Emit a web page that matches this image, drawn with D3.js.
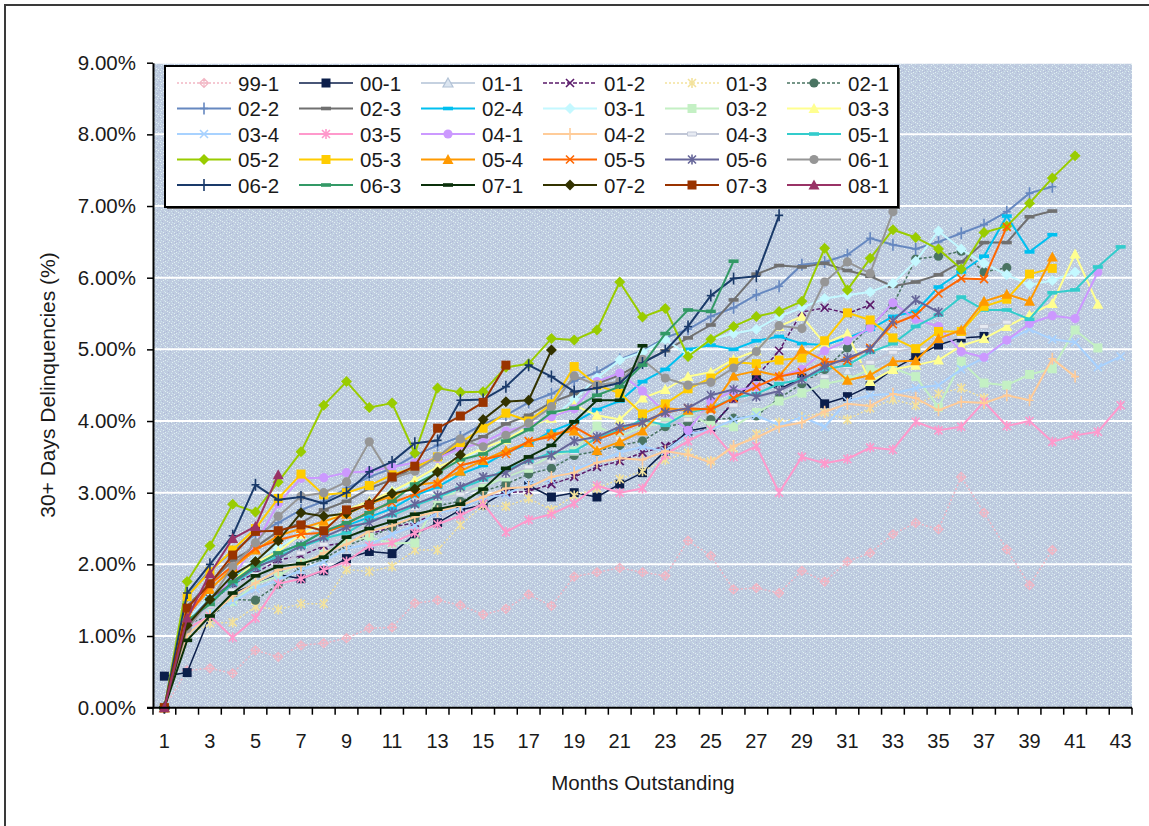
<!DOCTYPE html>
<html>
<head>
<meta charset="utf-8">
<script src="https://cdn.jsdelivr.net/npm/d3@7"></script>
<style>
  html, body { margin: 0; padding: 0; background: #ffffff; }
  svg { display: block; }
  text { font-family: "Liberation Sans", Arial, sans-serif; fill: #1a1a1a; }
</style>
</head>
<body>
<svg id="chart" width="1149" height="826"></svg>
<script>
// ---- categories and tick labels ----
const months = [1,2,3,4,5,6,7,8,9,10,11,12,13,14,15,16,17,18,19,20,21,22,23,24,25,26,27,28,29,30,31,32,33,34,35,36,37,38,39,40,41,42,43];
const xTickLabels = [1,3,5,7,9,11,13,15,17,19,21,23,25,27,29,31,33,35,37,39,41,43];
const yTicks = [0,1,2,3,4,5,6,7,8,9];

// ---- vintages (legend order) ----
const seriesNames = ["99-1","00-1","01-1","01-2","01-3","02-1",
                     "02-2","02-3","02-4","03-1","03-2","03-3",
                     "03-4","03-5","04-1","04-2","04-3","05-1",
                     "05-2","05-3","05-4","05-5","05-6","06-1",
                     "06-2","06-3","07-1","07-2","07-3","08-1"];

// ---- 30+ day delinquency rate (%) by month outstanding ----
const s99_1 = [0,0.52,0.55,0.48,0.80,0.71,0.87,0.90,0.97,1.11,1.12,1.46,1.50,1.43,1.30,1.38,1.58,1.42,1.83,1.89,1.95,1.89,1.84,2.33,2.12,1.65,1.67,1.60,1.91,1.76,2.04,2.16,2.42,2.58,2.49,3.22,2.72,2.21,1.71,2.20];
const s00_1 = [0.44,0.49,1.28,1.60,1.72,1.86,1.80,1.91,2.08,2.18,2.15,2.42,2.58,2.76,2.83,3.02,3.10,2.94,3.00,2.94,3.12,3.28,3.58,3.86,3.92,4.26,4.62,4.44,4.60,4.24,4.34,4.49,4.72,4.90,5.06,5.16,5.18];
const s01_1 = [0,1.08,1.36,1.62,1.78,1.98,2.08,2.22,2.36,2.48,2.62,2.70,2.88,2.94,3.08,3.18,3.32,3.38,3.52,3.64,3.70,3.84,3.92,4.06,4.10,4.24,4.30,4.44,4.52,4.58,4.70,4.74,4.86];
const s01_2 = [0,1.14,1.46,1.72,1.88,2.06,2.12,2.26,2.30,2.42,2.52,2.58,2.72,2.78,2.92,3.00,3.02,3.12,3.22,3.36,3.44,3.56,3.65,3.82,3.90,4.28,4.62,4.98,5.52,5.58,5.50,5.62];
const s01_3 = [0,0.98,1.18,1.19,1.41,1.37,1.45,1.45,1.93,1.90,1.97,2.20,2.20,2.55,2.82,2.81,2.92,2.76,2.96,3.06,3.19,3.30,3.46,3.56,3.44,3.62,3.82,3.98,4.06,4.12,4.02,4.18,4.30,4.22,4.38,4.46,4.32];
const s02_1 = [0,1.18,1.27,1.51,1.50,1.72,1.96,2.08,2.26,2.38,2.52,2.64,2.82,2.88,3.02,3.12,3.26,3.34,3.52,3.58,3.66,3.72,3.92,3.98,4.02,4.04,4.07,4.32,4.52,4.72,5.02,5.32,5.62,6.26,6.30,6.37,6.08,6.14];
const s02_2 = [0,1.56,1.92,2.18,2.42,2.58,2.76,2.88,3.06,3.22,3.34,3.52,3.66,3.78,3.96,4.08,4.26,4.38,4.56,4.68,4.86,4.98,5.16,5.28,5.46,5.58,5.76,5.88,6.18,6.22,6.32,6.55,6.46,6.40,6.50,6.62,6.74,6.92,7.18,7.27];
const s02_3 = [0,1.42,1.74,2.06,2.24,2.46,2.58,2.76,2.88,3.06,3.18,3.36,3.48,3.66,3.78,3.96,4.08,4.26,4.38,4.52,4.64,4.82,4.98,5.16,5.34,5.69,6.05,6.17,6.15,6.20,6.10,6.02,5.88,5.94,6.04,6.22,6.49,6.49,6.85,6.93];
const s02_4 = [0,1.22,1.54,1.82,1.98,2.16,2.28,2.46,2.54,2.66,2.78,2.96,3.08,3.26,3.38,3.56,3.68,3.86,3.98,4.16,4.28,4.55,4.72,5.00,5.06,5.00,5.12,5.18,5.08,5.06,5.16,5.28,5.46,5.53,5.87,6.08,6.30,6.86,6.36,6.60];
const s03_1 = [0,1.22,1.56,1.84,2.06,2.24,2.42,2.54,2.72,2.84,3.02,3.14,3.32,3.44,3.62,3.74,3.92,4.04,4.30,4.60,4.85,4.96,5.14,4.92,5.14,5.22,5.28,5.46,5.58,5.71,5.76,5.80,5.92,6.23,6.65,6.40,6.20,6.04,5.90,5.96,6.08];
const s03_2 = [0,1.04,1.32,1.48,1.72,1.84,2.02,2.14,2.32,2.38,2.29,2.30,2.92,3.02,3.08,3.22,3.34,3.52,3.58,3.93,3.78,3.92,3.98,4.12,3.94,3.92,4.12,4.28,4.39,4.52,4.58,4.72,4.74,4.62,4.19,4.83,4.53,4.50,4.65,4.73,5.27,5.02];
const s03_3 = [0,1.14,1.52,1.78,2.02,2.18,2.42,2.58,2.76,2.88,3.02,3.18,3.36,3.48,3.62,3.74,3.92,4.04,4.22,4.08,4.02,4.32,4.44,4.62,4.68,4.86,4.98,5.32,5.46,5.08,5.22,4.55,4.72,4.78,4.85,5.05,5.15,5.32,5.48,5.64,6.33,5.63];
const s03_4 = [0,1.04,1.32,1.48,1.66,1.78,1.92,2.04,2.22,2.28,2.42,2.54,2.72,2.78,2.92,2.98,3.12,3.18,3.32,3.44,3.56,3.64,3.58,3.82,3.88,4.02,4.08,3.94,4.06,3.92,4.28,4.36,4.38,4.46,4.50,4.72,4.88,5.12,5.28,5.14,5.10,4.75,4.90];
const s03_5 = [0,1.10,1.28,0.98,1.25,1.73,1.80,1.92,2.04,2.26,2.30,2.44,2.56,2.68,2.85,2.45,2.62,2.70,2.85,3.10,3.00,3.06,3.53,3.72,3.88,3.50,3.65,3.00,3.50,3.41,3.47,3.63,3.60,3.99,3.87,3.92,4.27,3.93,4.00,3.71,3.80,3.85,4.22];
const s04_1 = [0,1.12,1.44,1.82,2.28,2.85,3.20,3.21,3.28,3.30,3.36,3.42,3.48,3.62,3.70,3.86,3.94,4.06,4.17,4.55,4.67,4.42,4.12,3.87,4.28,4.42,4.48,4.62,4.72,4.98,5.12,5.30,5.65,5.42,5.32,4.97,4.89,5.13,5.36,5.47,5.43,6.08];
const s04_2 = [0,1.02,1.28,1.56,1.74,1.92,1.98,2.16,2.28,2.46,2.54,2.66,2.74,2.82,2.94,3.06,3.08,3.22,3.28,3.42,3.48,3.46,3.58,3.53,3.42,3.65,3.77,3.92,3.98,4.13,4.24,4.21,4.38,4.32,4.15,4.27,4.25,4.36,4.29,4.87,4.62];
const s04_3 = [0,1.12,1.42,1.64,1.86,1.98,2.16,2.28,2.46,2.54,2.66,2.78,2.92,2.98,3.16,3.24,3.36,3.44,3.56,3.62,3.76,3.84,3.96,4.02,4.16,4.22,4.36,4.42,4.56,4.62,4.76,4.82,4.96,5.02,5.12,5.18,5.32,5.38];
const s05_1 = [0,1.16,1.48,1.72,1.94,2.12,2.24,2.36,2.44,2.62,2.68,2.82,2.94,3.06,3.18,3.32,3.44,3.56,3.58,3.76,3.88,4.02,3.94,4.12,4.18,4.32,4.38,4.52,4.58,4.72,4.78,4.96,5.08,5.32,5.48,5.73,5.55,5.55,5.42,5.79,5.83,6.15,6.43];
const s05_2 = [0,1.76,2.26,2.84,2.73,3.15,3.57,4.22,4.55,4.19,4.25,3.55,4.46,4.40,4.41,4.75,4.80,5.15,5.13,5.27,5.94,5.45,5.57,4.90,5.14,5.32,5.46,5.53,5.67,6.41,5.83,6.27,6.67,6.56,6.40,6.12,6.63,6.72,7.04,7.39,7.70];
const s05_3 = [0,1.55,1.90,2.20,2.50,2.92,3.26,2.97,3.00,3.10,3.25,3.35,3.50,3.70,3.90,4.11,4.00,4.24,4.76,4.50,4.39,4.10,4.24,4.45,4.60,4.82,4.80,4.85,4.88,5.12,5.51,5.41,5.16,5.01,5.25,5.25,5.60,5.70,6.05,6.13];
const s05_4 = [0,1.30,1.65,1.95,2.20,2.40,2.50,2.60,2.70,2.85,2.95,3.10,3.15,3.30,3.45,3.59,3.70,3.82,3.86,3.59,3.71,3.86,4.18,4.15,4.18,4.63,4.70,4.63,5.00,4.84,4.57,4.64,4.83,4.84,5.15,5.27,5.67,5.77,5.67,6.29];
const s05_5 = [0,1.26,1.72,1.98,2.22,2.34,2.42,2.44,2.56,2.74,2.86,2.98,3.12,3.38,3.46,3.54,3.72,3.78,3.92,3.74,3.86,3.98,4.12,4.18,4.16,4.32,4.48,4.62,4.68,4.82,4.84,5.02,5.35,5.48,5.78,5.99,5.98,6.71];
const s05_6 = [0,1.18,1.52,1.74,1.96,2.08,2.26,2.38,2.52,2.58,2.72,2.84,2.96,3.08,3.22,3.28,3.46,3.52,3.72,3.78,3.92,3.98,4.12,4.18,4.36,4.44,4.34,4.42,4.58,4.76,4.88,5.00,5.40,5.69,5.52];
const s06_1 = [0,1.10,1.50,1.97,2.30,2.67,2.95,3.00,3.15,3.71,3.20,3.30,3.50,3.75,3.64,3.80,3.97,4.20,4.63,4.50,4.55,4.86,4.60,4.50,4.54,4.74,4.97,5.33,5.29,5.94,6.22,6.06,6.92];
const s06_2 = [0,1.60,2.00,2.40,3.11,2.90,2.94,2.85,3.00,3.29,3.43,3.69,3.73,4.29,4.30,4.48,4.78,4.62,4.41,4.46,4.53,4.81,4.98,5.32,5.75,5.99,6.02,6.87];
const s06_3 = [0,1.22,1.44,1.76,1.98,2.16,2.28,2.46,2.58,2.72,2.88,3.12,3.28,3.46,3.54,3.72,3.88,4.12,4.18,4.36,4.48,4.78,5.22,5.55,5.53,6.23];
const s07_1 = [0,0.94,1.28,1.60,1.84,1.97,2.01,2.10,2.38,2.50,2.60,2.70,2.77,2.84,3.05,3.34,3.50,3.66,3.99,4.29,4.29,5.05];
const s07_2 = [0,1.15,1.51,1.85,2.04,2.33,2.72,2.67,2.71,2.85,2.99,3.05,3.29,3.53,4.02,4.27,4.29,4.99];
const s07_3 = [0,1.39,1.73,2.13,2.46,2.47,2.55,2.47,2.76,2.83,3.22,3.37,3.90,4.07,4.26,4.78];
const s08_1 = [0,1.25,1.87,2.36,2.53,3.25];

const seriesValues = [s99_1,s00_1,s01_1,s01_2,s01_3,s02_1,
                      s02_2,s02_3,s02_4,s03_1,s03_2,s03_3,
                      s03_4,s03_5,s04_1,s04_2,s04_3,s05_1,
                      s05_2,s05_3,s05_4,s05_5,s05_6,s06_1,
                      s06_2,s06_3,s07_1,s07_2,s07_3,s08_1];

// ---- line colour, marker and dash for each vintage ----
const seriesStyles = [
  {c:"#f2b6c4", m:"diamondx", dash:"2,2", w:1.5},
  {c:"#0b1e4a", m:"square",   dash:null,  w:1.5},
  {c:"#b2c2d6", m:"triOpen",  dash:null,  w:1.5},
  {c:"#5a1a6a", m:"x",        dash:"4,2", w:1.5},
  {c:"#f3e29c", m:"asterisk", dash:"2,2", w:1.5},
  {c:"#4a7462", m:"circle",   dash:"3,2", w:1.5},
  {c:"#6688c0", m:"plus",     dash:null,  w:2},
  {c:"#707070", m:"dash",     dash:null,  w:2},
  {c:"#00c0f0", m:"dash",     dash:null,  w:2},
  {c:"#c4f8ff", m:"diamond",  dash:null,  w:2},
  {c:"#c4f0c4", m:"square",   dash:null,  w:2},
  {c:"#ffff90", m:"triangle", dash:null,  w:2},
  {c:"#a8d2ff", m:"x",        dash:null,  w:2},
  {c:"#ff99cc", m:"asterisk", dash:null,  w:2},
  {c:"#cc99ff", m:"circle",   dash:null,  w:2},
  {c:"#ffcc99", m:"plus",     dash:null,  w:2},
  {c:"#c0c6d6", m:"dashOpen", dash:null,  w:2},
  {c:"#33cccc", m:"dash",     dash:null,  w:2},
  {c:"#99cc00", m:"diamond",  dash:null,  w:2},
  {c:"#ffcc00", m:"square",   dash:null,  w:2},
  {c:"#ff9900", m:"triangle", dash:null,  w:2},
  {c:"#ff6600", m:"x",        dash:null,  w:2},
  {c:"#666699", m:"asterisk", dash:null,  w:2},
  {c:"#969696", m:"circle",   dash:null,  w:2},
  {c:"#1a3a6a", m:"plus",     dash:null,  w:2},
  {c:"#339966", m:"dash",     dash:null,  w:2},
  {c:"#0a300a", m:"dash",     dash:null,  w:2},
  {c:"#333300", m:"diamond",  dash:null,  w:2},
  {c:"#993300", m:"square",   dash:null,  w:2},
  {c:"#993366", m:"triangle", dash:null,  w:2}
];

// ---- layout ----
const plot = {left: 153, right: 1132, top: 62.7, bottom: 707.7};

const svg = d3.select("#chart");

// outer chart frame
svg.append("rect")
  .attr("x", 5).attr("y", 5).attr("width", 1170).attr("height", 850)
  .attr("fill", "none").attr("stroke", "#3a3a3a").attr("stroke-width", 2);

// speckled plot-area fill (irregular dot tile)
const defs = svg.append("defs");
const pat = defs.append("pattern").attr("id", "speckle")
  .attr("width", 11).attr("height", 9).attr("patternUnits", "userSpaceOnUse");
pat.append("rect").attr("width", 11).attr("height", 9).attr("fill", "#bfcce0");
const lightDot = "#e0f0f2", darkDot = "#afbbd7", cyanDot = "#cfe6ec";
[[0,0,lightDot],[5,0,darkDot],[9,1,lightDot],[2,1,cyanDot],[7,2,lightDot],[3,3,darkDot],
 [10,3,cyanDot],[0,4,lightDot],[6,4,cyanDot],[8,5,darkDot],[2,5,lightDot],[4,6,lightDot],
 [1,7,darkDot],[9,7,lightDot],[6,8,lightDot],[3,8,cyanDot],[7,6,cyanDot],[10,8,darkDot]]
  .forEach(([px, py, col]) => pat.append("rect").attr("x", px).attr("y", py).attr("width", 1).attr("height", 1).attr("fill", col));

const x = d3.scaleBand().domain(months).range([plot.left, plot.right]).padding(0);
const cx = m => x(m) + x.bandwidth() / 2;
const y = d3.scaleLinear().domain([0, 9]).range([plot.bottom, plot.top]);

svg.append("rect")
  .attr("x", plot.left).attr("y", plot.top)
  .attr("width", plot.right - plot.left).attr("height", plot.bottom - plot.top)
  .attr("fill", "url(#speckle)");

// horizontal gridlines
svg.append("g").selectAll("line").data(yTicks.filter(t => t > 0)).join("line")
  .attr("x1", plot.left).attr("x2", plot.right)
  .attr("y1", d => y(d)).attr("y2", d => y(d))
  .attr("stroke", "#ffffff").attr("stroke-width", 2);

// ---- marker shapes ----
function markerPath(type) {
  switch (type) {
    case "square":   return "M-4.5,-4.5H4.5V4.5H-4.5Z";
    case "diamond":  return "M0,-5.5L5.5,0L0,5.5L-5.5,0Z";
    case "triangle": return "M0,-5.5L5.5,4.5L-5.5,4.5Z";
    case "triOpen":  return "M0,-5L5,4L-5,4Z";
    case "circle":   return "M-4.6,0A4.6,4.6 0 1,0 4.6,0A4.6,4.6 0 1,0 -4.6,0Z";
    case "dash":     return "M-5,-1.8H5V1.8H-5Z";
    case "dashOpen": return "M-4.5,-2H4.5V2H-4.5Z";
    case "x":        return "M-4,-4L4,4M-4,4L4,-4";
    case "asterisk": return "M-4,-4L4,4M-4,4L4,-4M0,-5V5";
    case "plus":     return "M0,-6V6M-4,0H4";
    case "diamondx": return "M0,-4.5L4.5,0L0,4.5L-4.5,0ZM0,-4.5V4.5M-4.5,0H4.5";
  }
  return "";
}
const strokeMarkers = new Set(["x", "asterisk", "plus", "diamondx"]);

function drawMarker(g, st) {
  const p = g.append("path").attr("d", markerPath(st.m));
  if (strokeMarkers.has(st.m)) {
    p.attr("fill", "none").attr("stroke", st.c).attr("stroke-width", st.m === "diamondx" ? 1.2 : 1.6);
  } else if (st.m === "triOpen") {
    p.attr("fill", "#dbe5f0").attr("stroke", st.c).attr("stroke-width", 1.2);
  } else if (st.m === "dashOpen") {
    p.attr("fill", "#e6eaf2").attr("stroke", st.c).attr("stroke-width", 1);
  } else {
    p.attr("fill", st.c).attr("stroke", "none");
  }
  return p;
}

// ---- series ----
const line = d3.line().x(d => cx(d.m)).y(d => y(d.v));
const seriesG = svg.append("g");
seriesValues.forEach((vals, i) => {
  const st = seriesStyles[i];
  const pts = vals.map((v, j) => ({m: months[j], v}));
  const g = seriesG.append("g").attr("class", "series");
  g.append("path").datum(pts).attr("d", line)
    .attr("fill", "none").attr("stroke", st.c)
    .attr("stroke-width", st.w)
    .attr("stroke-dasharray", st.dash)
    .attr("stroke-linejoin", "round");
  pts.forEach(d => {
    const mg = g.append("g").attr("transform", `translate(${cx(d.m)},${y(d.v)})`);
    drawMarker(mg, st);
  });
});

// ---- axes ----
const yAxis = svg.append("g")
  .attr("transform", `translate(${plot.left},0)`)
  .call(d3.axisLeft(y).tickValues(yTicks).tickFormat(d => d.toFixed(2) + "%").tickSize(6).tickSizeOuter(0).tickPadding(11));
yAxis.select(".domain").attr("stroke", "#000").attr("stroke-width", 2);
yAxis.selectAll(".tick line").attr("stroke", "#000").attr("stroke-width", 1.5);
yAxis.selectAll("text").attr("font-size", 20.5).attr("fill", "#1a1a1a")
  .attr("font-family", "'Liberation Sans', Arial, sans-serif");

const xAxis = svg.append("g")
  .attr("transform", `translate(0,${plot.bottom})`)
  .call(d3.axisBottom(x).tickValues(xTickLabels).tickSize(0).tickSizeOuter(0));
xAxis.select(".domain").attr("stroke", "#000").attr("stroke-width", 2)
  .attr("d", `M${plot.left - 6},0H${plot.right}`);
xAxis.selectAll("text").attr("y", 40).attr("dy", null).attr("font-size", 20)
  .attr("fill", "#1a1a1a").attr("font-family", "'Liberation Sans', Arial, sans-serif");

// category boundary tick marks
const bounds = months.map(m => x(m)).concat([plot.right]);
xAxis.append("g").selectAll("line").data(bounds).join("line")
  .attr("x1", d => d).attr("x2", d => d).attr("y1", 0).attr("y2", 7)
  .attr("stroke", "#000").attr("stroke-width", 1.5);

// axis titles
svg.append("text")
  .attr("x", 643).attr("y", 790)
  .attr("text-anchor", "middle").attr("font-size", 20.5)
  .text("Months Outstanding");
svg.append("text")
  .attr("transform", `translate(55,385) rotate(-90)`)
  .attr("text-anchor", "middle").attr("font-size", 21)
  .text("30+ Days Delinquencies (%)");

// ---- legend ----
const leg = {x: 165, y: 66, w: 733, h: 141};
const legG = svg.append("g");
legG.append("rect").attr("x", leg.x + 2).attr("y", leg.y + 2).attr("width", leg.w).attr("height", leg.h)
  .attr("fill", "#555");
legG.append("rect").attr("x", leg.x).attr("y", leg.y).attr("width", leg.w).attr("height", leg.h)
  .attr("fill", "#ffffff").attr("stroke", "#000").attr("stroke-width", 2);

seriesNames.forEach((name, i) => {
  const st = seriesStyles[i];
  const col = i % 6, row = Math.floor(i / 6);
  const x0 = 177 + col * 122, yc = 83 + row * 25.5;
  const g = legG.append("g");
  g.append("line").attr("x1", x0).attr("x2", x0 + 54).attr("y1", yc).attr("y2", yc)
    .attr("stroke", st.c).attr("stroke-width", st.w).attr("stroke-dasharray", st.dash);
  const mg = g.append("g").attr("transform", `translate(${x0 + 27},${yc})`);
  drawMarker(mg, st);
  g.append("text").attr("x", x0 + 61).attr("y", yc + 7.5).attr("font-size", 20.5).text(name);
});
</script>
</body>
</html>
